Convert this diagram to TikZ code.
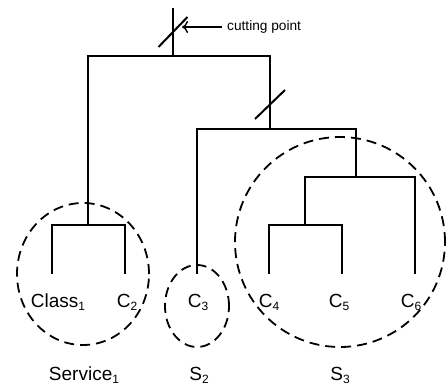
\documentclass[tikz,border=0pt]{standalone}
\usepackage{fontspec}
\setmainfont{Liberation Sans}
\usetikzlibrary{shapes.geometric,arrows.meta,calc}

\newcommand{\lo}[1]{\raisebox{-0.3ex}{\fontsize{12}{12}\selectfont #1}}

\tikzset{
  branch/.style={line width=2pt},
  group/.style={ellipse, draw, line width=1.8pt, dash pattern=on 10pt off 6pt, inner sep=0pt},
  leaf/.style={font=\fontsize{19}{22}\selectfont, inner sep=0pt},
  cut/.style={line width=2pt}
}

\begin{document}
\begin{tikzpicture}[x=1pt, y=-1pt]

  \useasboundingbox (0,0) rectangle (448,385);

  % ---- leaf tips and joins ----
  \coordinate (l1) at (52,274);
  \coordinate (l2) at (125,274);
  \coordinate (l3) at (197,274);
  \coordinate (l4) at (269,274);
  \coordinate (l5) at (342,274);
  \coordinate (l6) at (415,274);
  \coordinate (j1) at (88,225);
  \coordinate (j2) at (305,225);
  \coordinate (j3) at (356,177);
  \coordinate (j4) at (270,129);
  \coordinate (j5) at (173,56);
  \coordinate (top) at (173,8);

  % ---- dendrogram ----
  \draw[branch] (l1) |- (j1) -| (l2);
  \draw[branch] (l4) |- (j2) -| (l5);
  \draw[branch] (j2) |- (j3) -| (l6);
  \draw[branch] (l3) |- (j4) -| (j3);
  \draw[branch] (j1) |- (j5) -| (j4);
  \draw[branch] (j5) -- (top);

  % ---- cuts ----
  \draw[cut] ($(173,32)+(-14.5,15)$) -- ($(173,32)+(14.5,-15)$);
  \draw[cut] ($(270,104.5)+(-15,14.5)$) -- ($(270,104.5)+(15,-14.5)$);

  % cutting point note
  \node[anchor=west, font=\fontsize{13.7}{16}\selectfont, inner sep=0pt] (note) at (227,27) {cutting point};
  \coordinate (tip) at (182,27);
  \draw[line width=1.4pt, -{To[length=6pt,width=12pt]}] (note.west) ++(-5,0) -- (tip);

  % ---- leaves ----
  \node[leaf] (class1) at (58,302) {Class\lo{1}};
  \node[leaf] (c2) at (127,302) {C\lo{2}};
  \node[leaf] (c3) at (198,302) {C\lo{3}};
  \node[leaf] (c4) at (269,302) {C\lo{4}};
  \node[leaf] (c5) at (339,302) {C\lo{5}};
  \node[leaf] (c6) at (411,302) {C\lo{6}};

  % ---- services ----
  \node[group, minimum width=132pt, minimum height=142pt] (g1) at (83,274) {};
  \node[group, minimum width=64pt, minimum height=82pt] (g2) at (197,306) {};
  \node[group, minimum width=210pt, minimum height=210pt] (g3) at (340,242) {};

  \node[leaf] (svc1) at (84,375) {Service\lo{1}};
  \node[leaf] (s2) at (199,375) {S\lo{2}};
  \node[leaf] (s3) at (340,375) {S\lo{3}};

\end{tikzpicture}
\end{document}
